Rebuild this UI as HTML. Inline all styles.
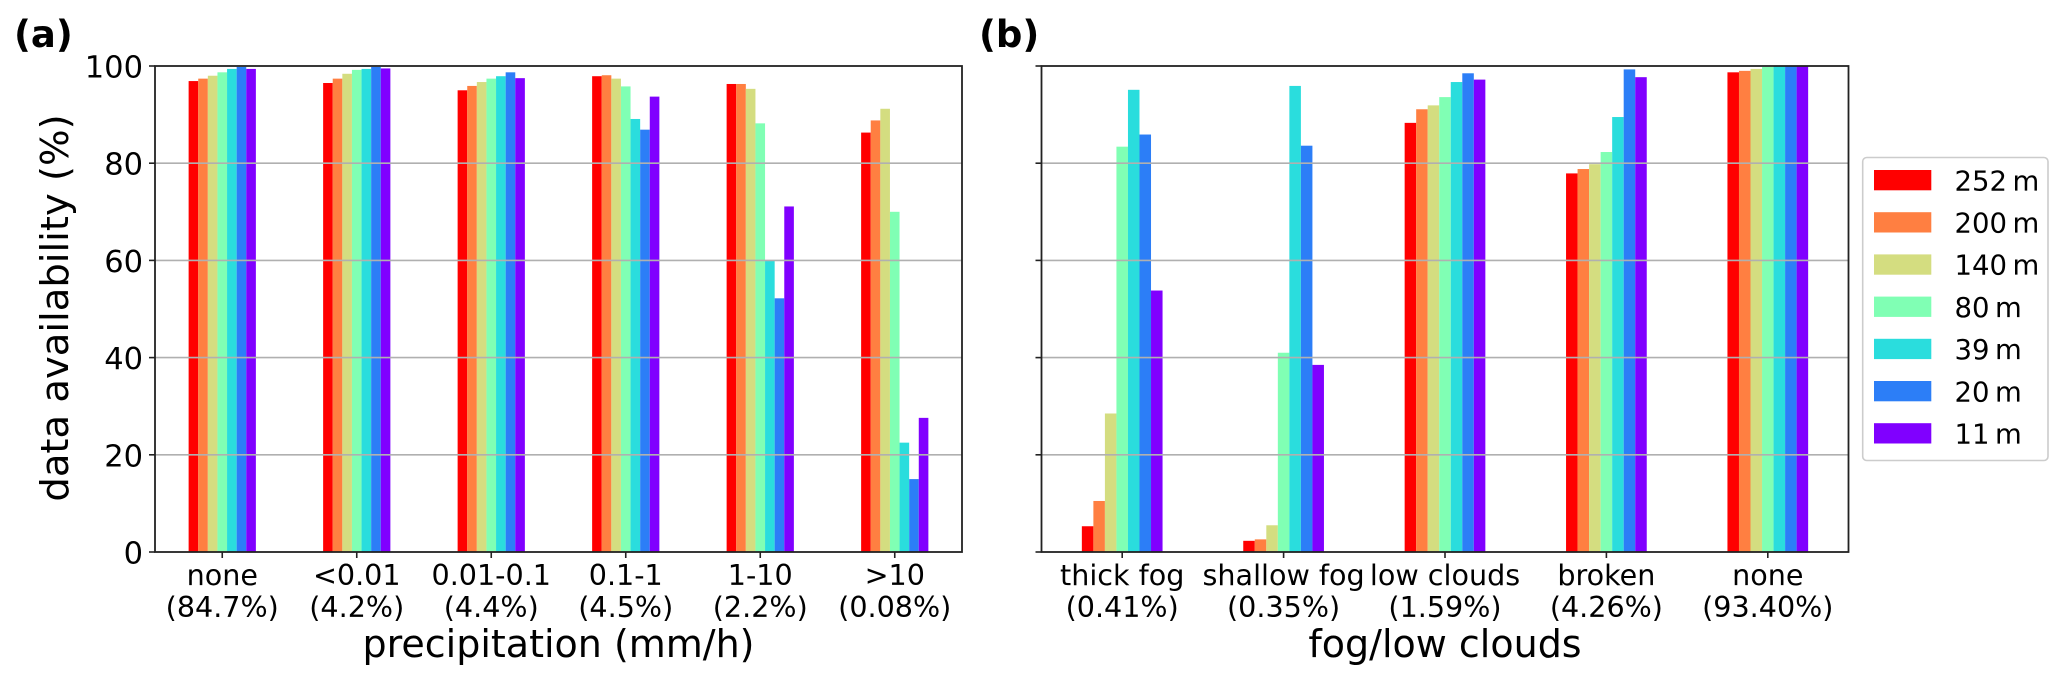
<!DOCTYPE html>
<html lang="en">
<head>
<meta charset="utf-8">
<title>Data availability by precipitation and fog/low clouds</title>
<style>
html,body{margin:0;padding:0;background:#fff;}
svg{display:block;font-family:"DejaVu Sans","Liberation Sans",sans-serif;}
</style>
</head>
<body>
<svg id="chart" xmlns="http://www.w3.org/2000/svg" width="2067" height="684" viewBox="0 0 2067 684"></svg>
<script>
// ---- data ----
const heightLabels = ['252\u2009m', '200\u2009m', '140\u2009m', '80\u2009m', '39\u2009m', '20\u2009m', '11\u2009m'];
const yTicks = [0, 20, 40, 60, 80, 100];

const precipCategories = [['none', '(84.7%)'], ['<0.01', '(4.2%)'], ['0.01-0.1', '(4.4%)'], ['0.1-1', '(4.5%)'], ['1-10', '(2.2%)'], ['>10', '(0.08%)']];
const precip252 = [96.9, 96.5, 95.0, 97.9, 96.3, 86.3];
const precip200 = [97.4, 97.4, 95.9, 98.1, 96.3, 88.8];
const precip140 = [98.0, 98.4, 96.7, 97.4, 95.3, 91.2];
const precip80 = [98.7, 99.2, 97.4, 95.8, 88.2, 70.0];
const precip39 = [99.4, 99.4, 97.9, 89.1, 60.0, 22.5];
const precip20 = [99.8, 99.8, 98.7, 86.9, 52.2, 15.0];
const precip11 = [99.4, 99.5, 97.5, 93.7, 71.1, 27.6];

const fogCategories = [['thick fog', '(0.41%)'], ['shallow fog', '(0.35%)'], ['low clouds', '(1.59%)'], ['broken', '(4.26%)'], ['none', '(93.40%)']];
const fog252 = [5.3, 2.3, 88.3, 77.9, 98.7];
const fog200 = [10.5, 2.6, 91.1, 78.8, 99.0];
const fog140 = [28.5, 5.5, 91.9, 79.8, 99.4];
const fog80 = [83.4, 41.0, 93.6, 82.3, 99.8];
const fog39 = [95.1, 95.9, 96.7, 89.5, 99.9];
const fog20 = [85.9, 83.6, 98.5, 99.3, 100];
const fog11 = [53.8, 38.5, 97.2, 97.7, 100];

// ---- styling and layout ----
const seriesColors = ['#ff0000', '#ff7f41', '#d4dd80', '#80ffb4', '#2adddd', '#2c7ef7', '#8000ff'];
const NS = 'http://www.w3.org/2000/svg';
const svg = document.getElementById('chart');
const TOP = 66, BOTTOM = 552;
const yScale = v => BOTTOM - (v / 100) * (BOTTOM - TOP);

function make(parent, tag, attrs, text) {
  const el = document.createElementNS(NS, tag);
  for (const k in attrs) el.setAttribute(k, attrs[k]);
  if (text !== undefined) el.textContent = text;
  parent.appendChild(el);
  return el;
}

function drawPanel(panelName, left, right, categories, series, xTitle, showYLabels) {
  const panel = make(svg, 'g', {});
  
  
  const slot = (right - left) / categories.length;
  const xCenter = i => left + slot * (i + 0.5);
  const barW = slot * 0.5 / series.length;

  series.forEach((vals, s) => {
    vals.forEach((v, i) => {
      const x = xCenter(i) - slot * 0.25 + s * barW;
      const bar = make(panel, 'rect', {x: x, y: yScale(v), width: barW, height: BOTTOM - yScale(v), fill: seriesColors[s]});
      
      
    });
  });

  yTicks.forEach(t => {
    const y = yScale(t);
    if (t > 0 && t < 100) {
      const grid = make(panel, 'line', {x1: left, x2: right, y1: y, y2: y, stroke: '#b0b0b0', 'stroke-width': 1.6});
      
      
    }
    const tick = make(panel, 'line', {x1: left - 6, x2: left, y1: y, y2: y, stroke: '#222', 'stroke-width': 1.6});
    
    
    if (showYLabels) {
      const lab = make(panel, 'text', {x: 143, y: y + 11.5, 'text-anchor': 'end', 'font-size': 30.5, fill: '#000'}, String(t));
      
      
    }
  });

  categories.forEach((c, i) => {
    const x = xCenter(i);
    const tick = make(panel, 'line', {x1: x, x2: x, y1: BOTTOM, y2: BOTTOM + 6, stroke: '#222', 'stroke-width': 1.6});
    
    
    const l1 = make(panel, 'text', {x: x, y: 585, 'text-anchor': 'middle', 'font-size': 28.6, fill: '#000'}, c[0]);
    
    
    const l2 = make(panel, 'text', {x: x, y: 617, 'text-anchor': 'middle', 'font-size': 28.6, fill: '#000'}, c[1]);
    
    
  });

  const frame = make(panel, 'rect', {x: left, y: TOP, width: right - left, height: BOTTOM - TOP, fill: 'none', stroke: '#222', 'stroke-width': 1.8});
  
  

  const title = make(panel, 'text', {x: (left + right) / 2, y: 657, 'text-anchor': 'middle', 'font-size': 38, fill: '#000'}, xTitle);
  
  
}

drawPanel('precipitation-panel', 155, 962, precipCategories,
  [precip252, precip200, precip140, precip80, precip39, precip20, precip11], 'precipitation (mm/h)', true);
drawPanel('fog-panel', 1041.5, 1848.5, fogCategories,
  [fog252, fog200, fog140, fog80, fog39, fog20, fog11], 'fog/low clouds', false);

const yTitle = make(svg, 'text', {x: 68, y: 308, 'text-anchor': 'middle', 'font-size': 38.5, fill: '#000', transform: 'rotate(-90 68 308)'}, 'data availability (%)');



const panelA = make(svg, 'text', {x: 14, y: 47, 'font-size': 37, 'font-weight': 'bold', fill: '#000'}, '(a)');


const panelB = make(svg, 'text', {x: 979, y: 47, 'font-size': 37, 'font-weight': 'bold', fill: '#000'}, '(b)');



const legend = make(svg, 'g', {});


const legendBox = make(legend, 'rect', {x: 1862.7, y: 157.5, width: 185.3, height: 303, rx: 4, fill: '#fff', stroke: '#ccc', 'stroke-width': 1.6});


heightLabels.forEach((lab, i) => {
  const y = 170 + i * 42.2;
  const sw = make(legend, 'rect', {x: 1874, y: y, width: 57.3, height: 20.3, fill: seriesColors[i]});
  
  
  const t = make(legend, 'text', {x: 1954.5, y: y + 20.3, 'font-size': 27.5, fill: '#000'}, lab);
  
  
});
</script>
</body>
</html>
